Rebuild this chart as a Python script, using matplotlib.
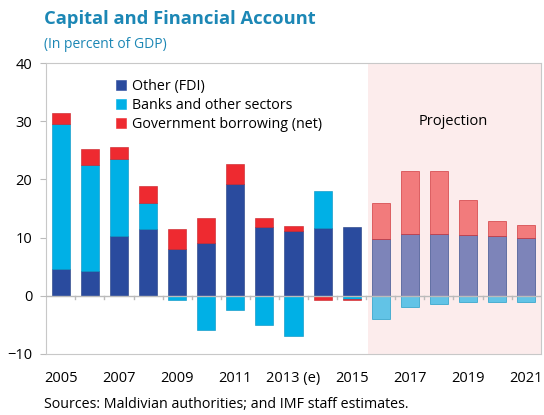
import numpy as np
import matplotlib.pyplot as plt

years = list(range(2005, 2022))
tick_labels = ["2005", "", "2007", "", "2009", "", "2011", "", "2013 (e)", "",
               "2015", "", "2017", "", "2019", "", "2021"]

other = [4.6, 4.2, 10.3, 11.4, 8.0, 9.0, 19.3, 11.8, 11.2, 11.6, 11.9,
         9.7, 10.7, 10.7, 10.5, 10.3, 10.0]
banks = [25.0, 18.2, 13.2, 4.5, -0.8, -5.9, -2.4, -5.1, -6.9, 6.4, -0.6,
         -3.9, -2.0, -1.4, -1.0, -1.0, -1.0]
govt = [1.8, 2.8, 2.0, 3.0, 3.4, 4.4, 3.4, 1.6, 0.8, -0.7, -0.2,
        6.3, 10.8, 10.8, 6.0, 2.5, 2.2]

n_hist = 11  # 2005-2015 actual, rest projection

series = [
    ("Other (FDI)", other, "#2A4B9E", "#7D84B9", "#1E3A80"),
    ("Banks and other sectors", banks, "#00B0E6", "#62C3E6", "#0090C0"),
    ("Government borrowing (net)", govt, "#EE2A30", "#F27B7C", "#C81E24"),
]

fig = plt.figure(figsize=(5.44, 4.15), dpi=100)
ax = fig.add_axes([0.085, 0.147, 0.909, 0.701])

x = np.arange(len(years))
w = 0.62

ax.axvspan(10.55, 16.5, color="#FCECEC", zorder=0, lw=0)

pos = np.zeros(len(years))
neg = np.zeros(len(years))
for name, vals, col, pcol, ecol in series:
    vals = np.array(vals)
    bottom = np.where(vals >= 0, pos, neg)
    colors = [col if i < n_hist else pcol for i in range(len(years))]
    ax.bar(x, vals, w, bottom=bottom, color=colors, edgecolor=ecol,
           linewidth=0.4, zorder=2, label=name)
    pos = np.where(vals >= 0, pos + vals, pos)
    neg = np.where(vals < 0, neg + vals, neg)

ax.axhline(0, color="#BBBBBB", lw=1, zorder=3)
for b in np.arange(0.5, 16, 1):
    ax.plot([b, b], [0, -0.6], color="#BBBBBB", lw=1, zorder=3)

ax.set_xlim(-0.5, 16.5)
ax.set_ylim(-10, 40)
ax.set_yticks([-10, 0, 10, 20, 30, 40])
ax.set_xticks(x)
ax.set_xticklabels(tick_labels, fontsize=10.5, family="Open Sans")
ax.tick_params(axis="x", length=0, pad=12)
ax.tick_params(axis="y", length=4, color="#BBBBBB", labelsize=10.5, pad=6)
for lbl in ax.get_yticklabels():
    lbl.set_family("Open Sans")
for s in ax.spines.values():
    s.set_color("#C8C8C8")

ax.text(13.5, 30, "Projection", ha="center", va="center", fontsize=10.5,
        family="Open Sans")

leg = ax.legend(loc="upper left", bbox_to_anchor=(0.115, 0.99), frameon=False,
                prop={"family": "Open Sans", "size": 10.3},
                handlelength=0.7, handleheight=0.7, handletextpad=0.4,
                labelspacing=0.3)
for h, (_, _, col, _, _) in zip(leg.legend_handles, series):
    h.set_facecolor(col)
    h.set_edgecolor(col)

fig.text(0.081, 0.955, "Capital and Financial Account", fontsize=13.2,
         fontweight="bold", color="#1C87B5", family="Open Sans", va="center")
fig.text(0.081, 0.893, "(In percent of GDP)", fontsize=10, color="#1C87B5",
         family="Open Sans", va="center")
fig.text(0.081, 0.025, "Sources: Maldivian authorities; and IMF staff estimates.",
         fontsize=10.3, family="Open Sans", va="center")

fig.savefig("out.png", dpi=100)
